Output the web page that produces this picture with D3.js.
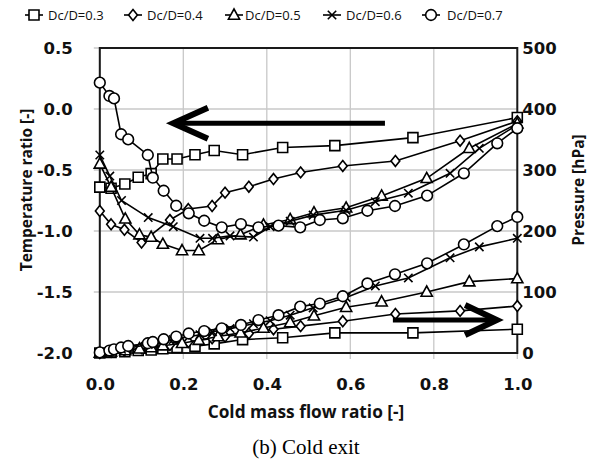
<!DOCTYPE html>
<html>
<head>
<meta charset="utf-8">
<script src="https://cdn.jsdelivr.net/npm/d3@7"></script>
<style>
  html, body { margin: 0; padding: 0; background: #fff; }
  svg { display: block; }
</style>
</head>
<body>
<div id="chart"></div>
<script>
// ---------- data ----------
const seriesNames = ["Dc/D=0.3", "Dc/D=0.4", "Dc/D=0.5", "Dc/D=0.6", "Dc/D=0.7"];
const seriesMarkers = ["square", "diamond", "triangle", "cross", "circle"];

const x03 = [0, 0.027, 0.06, 0.092, 0.123, 0.151, 0.185, 0.228, 0.274, 0.342, 0.438, 0.563, 0.75, 1.0];
const t03 = [-0.64, -0.65, -0.615, -0.56, -0.53, -0.41, -0.41, -0.375, -0.34, -0.375, -0.315, -0.3, -0.235, -0.07];
const p03 = [0, 1, 2, 4, 5, 7, 9, 11, 15, 22, 25, 33, 33, 39];

const x04 = [0, 0.027, 0.059, 0.1, 0.168, 0.212, 0.269, 0.30, 0.357, 0.416, 0.481, 0.582, 0.708, 0.863, 1.0];
const t04 = [-0.836, -0.945, -0.99, -1.095, -0.91, -0.82, -0.795, -0.686, -0.637, -0.574, -0.52, -0.467, -0.426, -0.26, -0.10];
const p04 = [0, 2, 4, 8, 13, 18, 24, 27, 32, 39, 44, 52, 64, 69, 77];

const x05 = [0, 0.027, 0.061, 0.095, 0.123, 0.151, 0.197, 0.237, 0.283, 0.337, 0.392, 0.456, 0.513, 0.59, 0.675, 0.783, 0.885, 1.0];
const t05 = [-0.45, -0.64, -0.90, -1.03, -1.05, -1.107, -1.16, -1.16, -1.07, -1.03, -0.95, -0.905, -0.85, -0.81, -0.713, -0.568, -0.322, -0.12];
const p05 = [0, 2, 4, 7, 9, 12, 16, 21, 27, 33, 41, 50, 61, 75, 84, 100, 117, 122];

const x06 = [0, 0.024, 0.052, 0.116, 0.176, 0.24, 0.27, 0.312, 0.368, 0.408, 0.456, 0.511, 0.59, 0.66, 0.739, 0.839, 0.909, 1.0];
const t06 = [-0.377, -0.55, -0.75, -0.89, -0.965, -1.06, -1.06, -1.04, -1.05, -0.965, -0.92, -0.87, -0.83, -0.76, -0.69, -0.527, -0.322, -0.13];
const p06 = [0, 3, 6, 14, 22, 30, 35, 40, 48, 53, 62, 74, 91, 110, 123, 156, 174, 188];

const x07 = [0, 0.023, 0.034, 0.051, 0.068, 0.115, 0.127, 0.153, 0.183, 0.213, 0.25, 0.292, 0.338, 0.38, 0.428, 0.48, 0.527, 0.582, 0.641, 0.707, 0.784, 0.872, 0.952, 1.0];
const t07 = [0.216, 0.107, 0.087, -0.207, -0.249, -0.377, -0.563, -0.67, -0.793, -0.855, -0.916, -0.97, -0.943, -0.97, -0.956, -0.97, -0.91, -0.896, -0.834, -0.795, -0.71, -0.527, -0.281, -0.158];
const p07 = [1, 4, 6, 9, 11.5, 16, 18, 22.5, 27, 32, 36, 40.5, 46, 54, 62, 76, 81, 93, 114, 129, 147, 178, 208, 223];

const xTicks = [0, 0.2, 0.4, 0.6, 0.8, 1.0];
const leftTicks = [-2.0, -1.5, -1.0, -0.5, 0.0, 0.5];
const rightTicks = [0, 100, 200, 300, 400, 500];

// annotation arrows (data units)
const arrowTemp = { from: [0.683, -0.117], to: [0.176, -0.117], wingX: 0.259, wingDy: 0.127 };
const arrowPres = { from: [0.702, 54], to: [0.951, 54], wingX: 0.875, wingDy: 24.6 };

// ---------- layout ----------
const W = 607, H = 465;
const L = 99.8, R = 517.3, T = 48, B = 353;

const svg = d3.select("#chart").append("svg").attr("width", W).attr("height", H);

const x = d3.scaleLinear().domain([0, 1]).range([L, R]);
const yL = d3.scaleLinear().domain([-2, 0.5]).range([B, T]);
const yR = d3.scaleLinear().domain([0, 500]).range([B, T]);

const gridColor = "#c8c8c8";
const textFont = "'Open Sans', 'DejaVu Sans', sans-serif";
const tickFont = "'DejaVu Sans', 'Open Sans', sans-serif";

// gridlines
svg.append("g").selectAll("line").data(xTicks).join("line")
  .attr("x1", d => x(d)).attr("x2", d => x(d))
  .attr("y1", T).attr("y2", B + 6)
  .attr("stroke", gridColor).attr("stroke-width", 1.3);
svg.append("g").selectAll("line").data(leftTicks).join("line")
  .attr("x1", L - 6).attr("x2", R)
  .attr("y1", d => yL(d)).attr("y2", d => yL(d))
  .attr("stroke", gridColor).attr("stroke-width", 1.3);

// plot frame
svg.append("rect").attr("x", L).attr("y", T).attr("width", R - L).attr("height", B - T)
  .attr("fill", "none").attr("stroke", "#1a1a1a").attr("stroke-width", 2);

// axes (labels)
const fmt1 = d => d.toFixed(1);
const axB = svg.append("g").attr("transform", `translate(0,${B})`)
  .call(d3.axisBottom(x).tickValues(xTicks).tickFormat(fmt1).tickSize(0));
const axL = svg.append("g").attr("transform", `translate(${L},0)`)
  .call(d3.axisLeft(yL).tickValues(leftTicks).tickFormat(fmt1).tickSize(0).tickPadding(27));
const axR = svg.append("g").attr("transform", `translate(${R},0)`)
  .call(d3.axisRight(yR).tickValues(rightTicks).tickFormat(d => String(d)).tickSize(0).tickPadding(5));
[axB, axL, axR].forEach(a => {
  a.select(".domain").remove();
  a.selectAll("text").attr("font-family", tickFont).attr("font-weight", "bold")
    .attr("font-size", 16.5).attr("fill", "#111");
});
axB.selectAll("text").attr("y", 37).attr("dy", null);

// axis titles
svg.append("text").attr("transform", `translate(32,190) rotate(-90)`)
  .attr("text-anchor", "middle").attr("font-family", textFont).attr("font-weight", "bold")
  .attr("font-size", 15.5).attr("fill", "#111").text("Temperature ratio [-]");
svg.append("text").attr("transform", `translate(584,190) rotate(-90)`)
  .attr("text-anchor", "middle").attr("font-family", textFont).attr("font-weight", "bold")
  .attr("font-size", 15.5).attr("fill", "#111").text("Pressure [hPa]");
svg.append("text").attr("x", 306).attr("y", 418)
  .attr("text-anchor", "middle").attr("font-family", textFont).attr("font-weight", "bold")
  .attr("font-size", 17.3).attr("fill", "#111").text("Cold mass flow ratio [-]");
svg.append("text").attr("x", 306).attr("y", 454)
  .attr("text-anchor", "middle").attr("font-family", "'Liberation Serif', 'DejaVu Serif', serif")
  .attr("font-size", 21).attr("fill", "#000").text("(b) Cold exit");

// ---------- markers ----------
function markerPath(type) {
  switch (type) {
    case "square": return d3.symbol(d3.symbolSquare, 100)();
    case "diamond": return "M0,-5.4L4.4,0L0,5.4L-4.4,0Z";
    case "triangle": return "M0,-6L5.6,4.2L-5.6,4.2Z";
    case "circle": return d3.symbol(d3.symbolCircle, 90)();
    case "cross": return "M-4.2,-4.2L4.2,4.2M-4.2,4.2L4.2,-4.2";
  }
}

function drawSeries(xs, ys, yScale, type) {
  const pts = xs.map((v, i) => [x(v), yScale(ys[i])]);
  const g = svg.append("g");
  g.append("path").attr("d", d3.line()(pts))
    .attr("fill", "none").attr("stroke", "#000").attr("stroke-width", 1.6);
  g.selectAll("path.m").data(pts).join("path").attr("class", "m")
    .attr("transform", d => `translate(${d[0]},${d[1]})`)
    .attr("d", markerPath(type))
    .attr("fill", type === "cross" ? "none" : "#fff")
    .attr("stroke", "#000").attr("stroke-width", 1.6);
}

const xsAll = [x03, x04, x05, x06, x07];
const tAll = [t03, t04, t05, t06, t07];
const pAll = [p03, p04, p05, p06, p07];
for (let i = 0; i < 5; i++) drawSeries(xsAll[i], tAll[i], yL, seriesMarkers[i]);
for (let i = 0; i < 5; i++) drawSeries(xsAll[i], pAll[i], yR, seriesMarkers[i]);

// ---------- arrows ----------
function drawArrow(a, yScale) {
  const g = svg.append("g");
  const tip = [x(a.to[0]), yScale(a.to[1])];
  g.append("line").attr("x1", x(a.from[0])).attr("y1", yScale(a.from[1]))
    .attr("x2", tip[0] + (a.to[0] < a.from[0] ? 3 : -3)).attr("y2", tip[1])
    .attr("stroke", "#000").attr("stroke-width", 5);
  const w1 = [x(a.wingX), yScale(a.to[1] + a.wingDy)];
  const w2 = [x(a.wingX), yScale(a.to[1] - a.wingDy)];
  g.append("path").attr("d", d3.line()([w1, tip, w2]))
    .attr("fill", "none").attr("stroke", "#000").attr("stroke-width", 6)
    .attr("stroke-linejoin", "miter").attr("stroke-miterlimit", 10);
}
drawArrow(arrowTemp, yL);
drawArrow(arrowPres, yR);

// ---------- legend ----------
const legendMarkX = [34, 133, 234, 332, 431];
const legendTextX = [48, 147, 245, 346, 447];
const lg = svg.append("g");
seriesNames.forEach((name, i) => {
  const cx = legendMarkX[i], cy = 15;
  lg.append("line").attr("x1", cx - 9).attr("x2", cx + 9).attr("y1", cy).attr("y2", cy)
    .attr("stroke", "#000").attr("stroke-width", 1.6);
  lg.append("path").attr("transform", `translate(${cx},${cy})`).attr("d", markerPath(seriesMarkers[i]))
    .attr("fill", seriesMarkers[i] === "cross" ? "none" : "#fff")
    .attr("stroke", "#000").attr("stroke-width", 1.6);
  lg.append("text").attr("x", legendTextX[i]).attr("y", cy + 4.5)
    .attr("font-family", textFont).attr("font-size", 13).attr("fill", "#111").text(name);
});
</script>
</body>
</html>
